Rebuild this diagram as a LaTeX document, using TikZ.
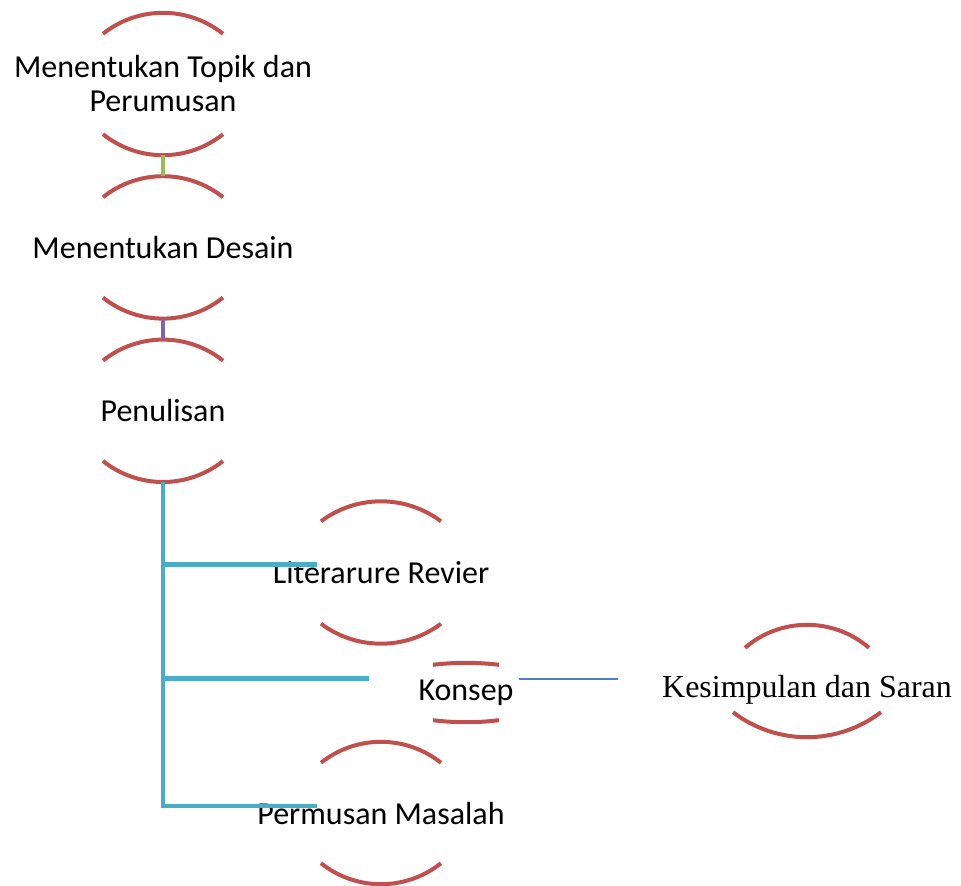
\documentclass[tikz,border=0pt]{standalone}
\usepackage{fontspec}
\setmainfont{Carlito}
\newfontfamily\serifrm{Liberation Serif}
\usetikzlibrary{positioning}
\definecolor{arcred}{HTML}{C0504D}
\definecolor{linkgreen}{HTML}{9BBB59}
\definecolor{linkpurple}{HTML}{8064A2}
\definecolor{trunkblue}{HTML}{4BACC6}
\definecolor{thinblue}{HTML}{4F81BD}
\tikzset{
  chart/.style={
	x=1pt, y=1pt, % one unit is one pixel of the chart
	every node/.style={font=\fontsize{32}{34}\selectfont, inner sep=0pt, align=center}, % text of every step
	topic/.style={minimum height=142pt}, % room between the two arcs
	arcline/.style={draw=arcred, line width=4pt}, % red arcs round a step
	link/.style={line width=4.5pt}, % short joints between the steps
	trunk/.style={draw=trunkblue, line width=4.5pt}, % tree under Penulisan
	thinlink/.style={draw=thinblue, line width=1.5pt},
  }
}
% arcs above and below a step: node, top half width, top sag, bottom half width, bottom sag
\newcommand{\steparcs}[5]{
  \pgfmathsetmacro\arcr{(#2*#2+#3*#3)/(2*#3)}
  \pgfmathsetmacro\arca{asin(#2/\arcr)}
  \draw[arcline] (#1.north) ++(-#2,-#3) arc[start angle=90+\arca, end angle=90-\arca, radius=\arcr];
  \pgfmathsetmacro\arcr{(#4*#4+#5*#5)/(2*#5)}
  \pgfmathsetmacro\arca{asin(#4/\arcr)}
  \draw[arcline] (#1.south) ++(-#4,#5) arc[start angle=270-\arca, end angle=270+\arca, radius=\arcr];
}

\begin{document}
\begin{tikzpicture}[chart]
\useasboundingbox (0,0) rectangle (961,-886);

\node[topic] (topik) at (163,-84) {Menentukan Topik dan\\Perumusan};
\node[topic, below=21pt of topik] (desain) {Menentukan Desain};
\node[topic, below=21pt of desain] (penulisan) {Penulisan};
\node[topic] (literatur) at (381,-572.5) {Literarure Revier};
\node[minimum height=59pt] (konsep) at (466,-692.5) {Konsep};
\node[topic] (masalah) at (381,-813) {Permusan Masalah};
\node[font=\serifrm\fontsize{32}{36}\selectfont, text height=32pt, text depth=0pt, minimum height=112pt] (kesimpulan) at (807,-681) {Kesimpulan dan Saran};

\steparcs{topik}{60}{21}{60}{21}
\steparcs{desain}{60}{21}{60}{21}
\steparcs{penulisan}{60}{21}{60}{21}
\steparcs{literatur}{60}{20}{60}{20}
\steparcs{konsep}{33}{2}{33}{2}
\steparcs{masalah}{60}{21}{60}{21}
\steparcs{kesimpulan}{62}{23}{74}{25}

\draw[link, linkgreen] (topik.south) -- (desain.north);
\draw[link, linkpurple] (desain.south) -- (penulisan.north);

\coordinate (fork1) at ([xshift=-64pt, yshift=8pt]literatur.center);
\coordinate (fork2) at ([xshift=-97pt, yshift=14pt]konsep.center);
\draw[trunk] (penulisan.south) |- ([xshift=-64pt, yshift=7pt]masalah.center);
\draw[trunk] (penulisan.south |- fork1) -- (fork1);
\draw[trunk] (penulisan.south |- fork2) -- (fork2);

\draw[thinlink] ([xshift=53pt, yshift=13.5pt]konsep.center) -- ([xshift=-189pt, yshift=2pt]kesimpulan.center);
\end{tikzpicture}
\end{document}
